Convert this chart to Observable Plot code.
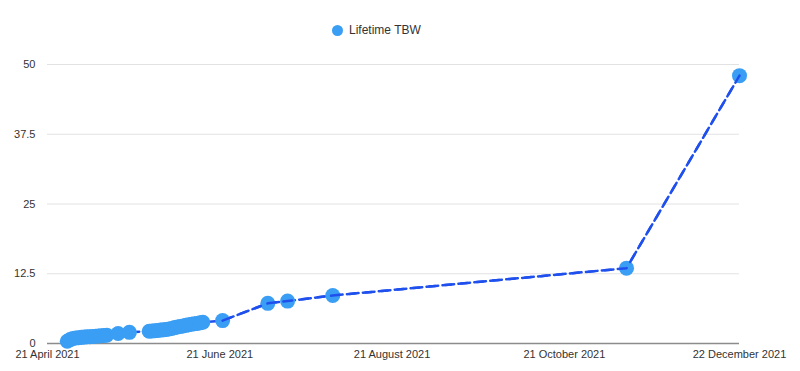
<!DOCTYPE html>
<html>
<head>
<meta charset="utf-8">
<script src="https://cdn.jsdelivr.net/npm/d3@7"></script>
<script src="https://cdn.jsdelivr.net/npm/@observablehq/plot@0.6"></script>
<style>
  html, body { margin: 0; padding: 0; background: #fff; }
  body { width: 800px; height: 371px; overflow: hidden; font-family: "Liberation Sans", Arial, sans-serif; }
  #legend { height: 50px; position: relative; }
  #legend .dot { position: absolute; left: 332px; top: 25px; width: 11px; height: 11px; border-radius: 50%; background: #3a9ef4; }
  #legend .lbl { position: absolute; left: 349px; top: 23px; font-size: 12px; color: #333; }
  svg { display: block; }
</style>
</head>
<body>
<div id="legend"><span class="dot"></span><span class="lbl">Lifetime TBW</span></div>
<div id="chart"></div>
<script>
const seriesName = "Lifetime TBW";
const dates = [
  "2021-04-28","2021-04-29","2021-04-30","2021-05-01","2021-05-02","2021-05-03","2021-05-04",
  "2021-05-05","2021-05-06","2021-05-07","2021-05-08","2021-05-09","2021-05-10","2021-05-11","2021-05-12",
  "2021-05-16","2021-05-20",
  "2021-05-27","2021-05-28","2021-05-29","2021-05-30","2021-05-31","2021-06-01","2021-06-02",
  "2021-06-03","2021-06-04","2021-06-05","2021-06-06","2021-06-07","2021-06-08","2021-06-09",
  "2021-06-10","2021-06-11","2021-06-12","2021-06-13","2021-06-14","2021-06-15",
  "2021-06-22","2021-07-08","2021-07-15","2021-07-31","2021-11-12","2021-12-22"
];
const values = [
  0.4, 0.7, 0.9, 1.0, 1.05, 1.1, 1.15,
  1.2, 1.22, 1.25, 1.3, 1.35, 1.4, 1.45, 1.5,
  1.8, 2.0,
  2.2, 2.25, 2.3, 2.35, 2.4, 2.45, 2.5,
  2.6, 2.7, 2.85, 2.95, 3.05, 3.15, 3.25,
  3.35, 3.45, 3.55, 3.6, 3.7, 3.8,
  4.1, 7.2, 7.6, 8.6, 13.5, 48.0
];
const xTicks = ["2021-04-21","2021-06-21","2021-08-21","2021-10-21","2021-12-22"];
const yTicks = [0, 12.5, 25, 37.5, 50];

const data = dates.map((d, i) => ({date: new Date(d), value: values[i]}));
const topLine = data.filter(d => d.date >= new Date("2021-06-22"));
const fmt = d3.utcFormat("%-d %B %Y");

const chart = Plot.plot({
  width: 800,
  height: 321,
  marginTop: 14,
  marginBottom: 28,
  marginLeft: 47,
  marginRight: 61,
  style: {fontFamily: "Liberation Sans, Arial, sans-serif", fontSize: "11px", color: "#333", background: "#fff"},
  x: {type: "utc", domain: [new Date(xTicks[0]), new Date(xTicks[xTicks.length - 1])], ticks: xTicks.map(d => new Date(d)), tickFormat: fmt, tickSize: 0, tickPadding: 7, label: null},
  y: {domain: [0, 50], ticks: yTicks, tickSize: 0, tickPadding: 12, label: null, tickFormat: d => String(d)},
  marks: [
    Plot.ruleY(yTicks.filter(d => d > 0), {stroke: "#e2e2e2", strokeWidth: 1}),
    Plot.ruleY([0], {stroke: "#8c8c8c", strokeWidth: 1.5}),
    Plot.line(data, {x: "date", y: "value", stroke: "#1f50ee", strokeWidth: 2.5, strokeDasharray: "9,7"}),
    Plot.dot(data, {x: "date", y: "value", r: 7.5, fill: "#3a9ef4", stroke: "none"}),
    Plot.line(topLine, {x: "date", y: "value", stroke: "#1f50ee", strokeWidth: 2.5, strokeDasharray: "9,7"})
  ]
});
document.getElementById("chart").appendChild(chart);
</script>
</body>
</html>
